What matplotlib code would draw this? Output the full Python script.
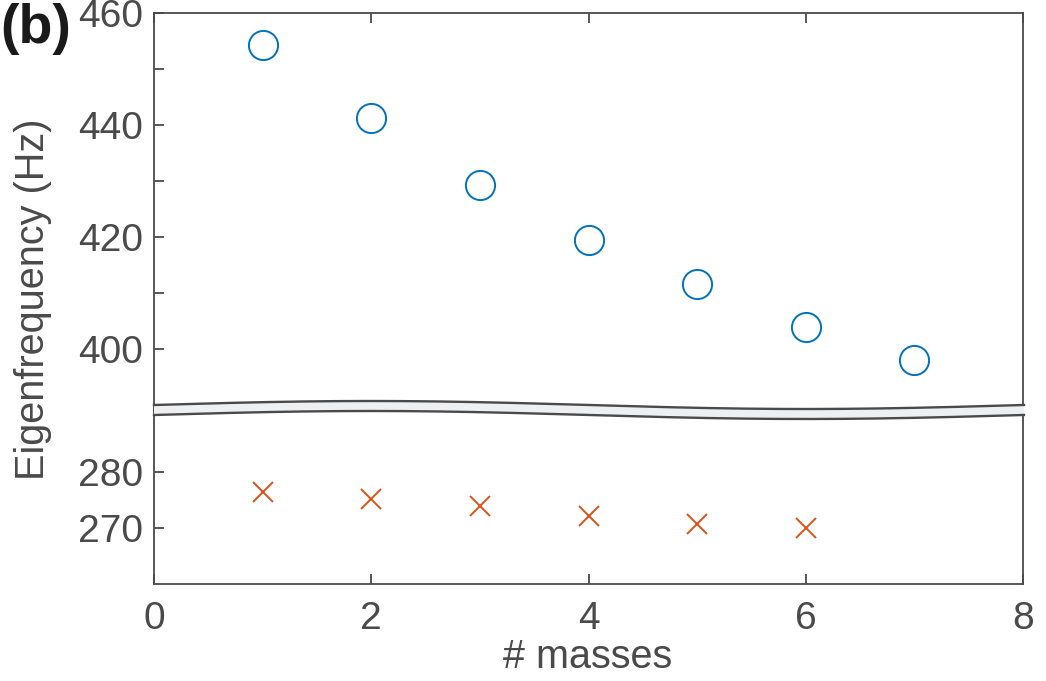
import numpy as np
import matplotlib
matplotlib.use("Agg")
import matplotlib.pyplot as plt
from matplotlib.patches import Polygon

plt.rcParams['font.family'] = ['Liberation Sans', 'DejaVu Sans']

# ---- data ----
masses_upper = [1, 2, 3, 4, 5, 6, 7]
freq_upper = [454.3, 441.2, 429.3, 419.5, 411.6, 403.9, 398.0]
masses_lower = [1, 2, 3, 4, 5, 6]
freq_lower = [276.4, 275.2, 273.9, 272.1, 270.7, 270.0]

xticks = [0, 2, 4, 6, 8]
yticks_upper = [400, 420, 440, 460]
yticks_upper_minor = [410, 430, 450]
yticks_lower = [270, 280]

ylim_upper = (389.1, 460)
ylim_lower = (260, 291.1)
xlim = (0, 8)

C_BLUE = '#0072BD'
C_ORANGE = '#D95319'
C_AX = '#4a4a4a'
TICK_FS = 28
LABEL_FS = 28.5

W_PX, H_PX = 1046, 681
fig = plt.figure(figsize=(W_PX / 100, H_PX / 100), dpi=100)

left_px, right_px = 154, 1023
top_px, break_px, bottom_px = 13, 410, 584
L = left_px / W_PX
Wd = (right_px - left_px) / W_PX

ax_top = fig.add_axes([L, 1 - break_px / H_PX, Wd, (break_px - top_px) / H_PX])
ax_bot = fig.add_axes([L, 1 - bottom_px / H_PX, Wd, (bottom_px - break_px) / H_PX])

for ax in (ax_top, ax_bot):
    ax.set_xlim(*xlim)
    for s in ax.spines.values():
        s.set_color(C_AX)
        s.set_linewidth(1.3)
    ax.tick_params(direction='in', length=7, width=1.3, color=C_AX,
                   labelcolor=C_AX, labelsize=TICK_FS)
    ax.set_facecolor('none')

# top axis
ax_top.spines['bottom'].set_visible(False)
ax_top.set_ylim(*ylim_upper)
ax_top.set_xticks(xticks)
ax_top.tick_params(axis='x', bottom=False, top=True, labelbottom=False, labeltop=False)
ax_top.set_yticks(yticks_upper)
ax_top.set_yticks(yticks_upper_minor, minor=True)
ax_top.tick_params(axis='y', which='both', direction='in', length=7, width=1.3,
                   color=C_AX, pad=8, right=False)
ax_top.plot(masses_upper, freq_upper, linestyle='none', marker='o', markersize=21,
            markerfacecolor='none', markeredgecolor=C_BLUE, markeredgewidth=1.4,
            clip_on=False, zorder=3)

# bottom axis
ax_bot.spines['top'].set_visible(False)
ax_bot.set_ylim(*ylim_lower)
ax_bot.set_xticks(xticks)
ax_bot.set_xticklabels([str(v) for v in xticks])
ax_bot.tick_params(axis='x', top=False, pad=12)
ax_bot.set_yticks(yticks_lower)
ax_bot.tick_params(axis='y', pad=8, right=False)
ax_bot.plot(masses_lower, freq_lower, linestyle='none', marker='x', markersize=15,
            markeredgecolor=C_ORANGE, markeredgewidth=1.4, clip_on=False, zorder=3)

# wavy break band (figure pixel coords)
xs = np.linspace(left_px, right_px + 1, 300)
center = break_px - 4.0 * np.sin(2 * np.pi * (xs - left_px) / (right_px - left_px))
half = 5.0
top_line = center - half
bot_line = center + half

def to_fig(xp, yp):
    return np.column_stack([xp / W_PX, 1 - yp / H_PX])

poly = Polygon(np.vstack([to_fig(xs, top_line), to_fig(xs[::-1], bot_line[::-1])]),
               closed=True, facecolor='#eeeff1', edgecolor='none',
               transform=fig.transFigure, zorder=10)
fig.add_artist(poly)
for yl in (top_line, bot_line):
    ln = plt.Line2D(xs / W_PX, 1 - yl / H_PX, color=C_AX, linewidth=1.7,
                    transform=fig.transFigure, zorder=11)
    fig.add_artist(ln)

# labels
fig.text(33 / W_PX, 1 - 299 / H_PX, 'Eigenfrequency (Hz)', rotation=90,
         ha='center', va='center', fontsize=LABEL_FS, color=C_AX)
fig.text(588 / W_PX, 1 - 668 / H_PX, '# masses', ha='center', va='baseline',
         fontsize=LABEL_FS, color=C_AX)
fig.text(0 / W_PX, 1 - 43 / H_PX, '(b)', ha='left', va='baseline',
         fontsize=40, fontweight='bold', color='#1a1a1a')

fig.savefig('out.png', dpi=100)
